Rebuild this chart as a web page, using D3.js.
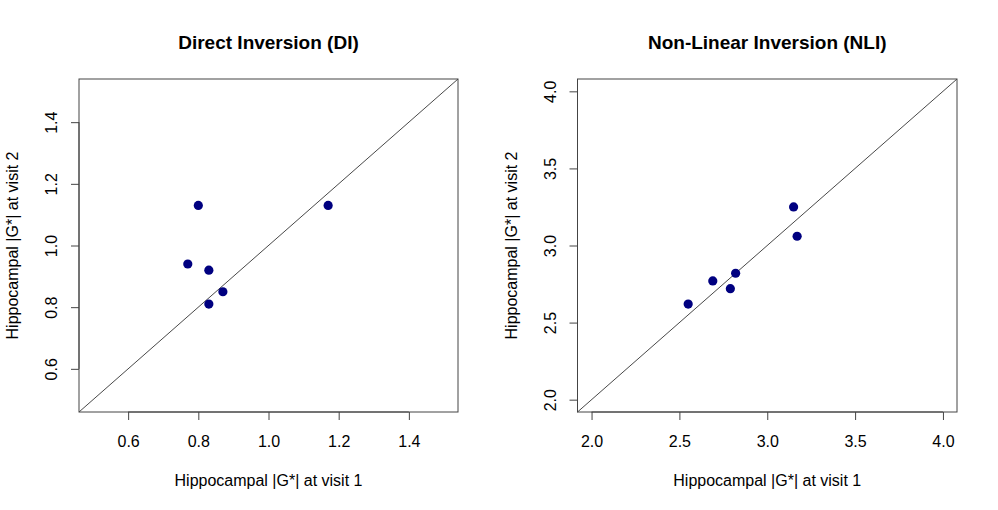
<!DOCTYPE html>
<html>
<head>
<meta charset="utf-8">
<title>Hippocampal |G*| visit 1 vs visit 2</title>
<script src="https://cdn.jsdelivr.net/npm/d3@7"></script>
<style>
  body { margin: 0; background: #fff; }
  text { font-family: "Liberation Sans", Arial, sans-serif; fill: #000; }
</style>
</head>
<body>
<script>
// data
var diVisit1 = [0.80, 1.17, 0.77, 0.83, 0.87, 0.83];
var diVisit2 = [1.13, 1.13, 0.94, 0.92, 0.85, 0.81];
var nliVisit1 = [2.55, 2.69, 2.79, 2.82, 3.15, 3.17];
var nliVisit2 = [2.62, 2.77, 2.72, 2.82, 3.25, 3.06];
var diTicks = [0.6, 0.8, 1.0, 1.2, 1.4];
var nliTicks = [2.0, 2.5, 3.0, 3.5, 4.0];

var svg = d3.select("body").append("svg").attr("width", 998).attr("height", 510);

var panels = [
    {title: "Direct Inversion (DI)", x: diVisit1, y: diVisit2, lim: [0.5, 1.5], ticks: diTicks, left: 79, right: 458},
    {title: "Non-Linear Inversion (NLI)", x: nliVisit1, y: nliVisit2, lim: [2, 4], ticks: nliTicks, left: 577.5, right: 957}
];

var plotTop = 79, plotBottom = 412;

panels.forEach(function(p) {
    // R style 4% padding of the axis range
    var pad = (p.lim[1] - p.lim[0]) * 0.04;
    var dom = [p.lim[0] - pad, p.lim[1] + pad];
    var x = d3.scaleLinear().domain(dom).range([p.left, p.right]);
    var y = d3.scaleLinear().domain(dom).range([plotBottom, plotTop]);
    var g = svg.append("g");

    // identity line
    g.append("line")
        .attr("x1", x(dom[0])).attr("y1", y(dom[0]))
        .attr("x2", x(dom[1])).attr("y2", y(dom[1]))
        .attr("stroke", "#333").attr("stroke-width", 0.9);

    g.selectAll("circle").data(p.x).enter().append("circle")
        .attr("cx", function(d) { return x(d); })
        .attr("cy", function(d, i) { return y(p.y[i]); })
        .attr("r", 4.6)
        .attr("fill", "#000080");

    g.append("rect")
        .attr("x", p.left).attr("y", plotTop)
        .attr("width", p.right - p.left).attr("height", plotBottom - plotTop)
        .attr("fill", "none").attr("stroke", "#444").attr("stroke-width", 1);

    var xAxis = g.append("g").attr("transform", "translate(0," + plotBottom + ")")
        .call(d3.axisBottom(x).tickValues(p.ticks).tickSize(8).tickPadding(16)
            .tickFormat(d3.format(".1f")));
    var yAxis = g.append("g").attr("transform", "translate(" + p.left + ",0)")
        .call(d3.axisLeft(y).tickValues(p.ticks).tickSize(8).tickPadding(13)
            .tickFormat(d3.format(".1f")));
    [xAxis, yAxis].forEach(function(a) {
        a.select(".domain").remove();
        a.selectAll("line").attr("stroke", "#444");
        a.selectAll("text").style("font-size", "16px")
            .style("font-family", "Liberation Sans, Arial, sans-serif");
    });
    // R draws the axis line between first and last tick
    xAxis.append("line")
        .attr("x1", x(p.ticks[0])).attr("x2", x(p.ticks[p.ticks.length - 1]))
        .attr("stroke", "#444");
    yAxis.append("line")
        .attr("y1", y(p.ticks[0])).attr("y2", y(p.ticks[p.ticks.length - 1]))
        .attr("stroke", "#444");
    yAxis.selectAll(".tick text")
        .attr("x", null).attr("dy", null).attr("y", null)
        .attr("text-anchor", "middle")
        .attr("transform", "translate(-22,0) rotate(-90)");

    var cx = (p.left + p.right) / 2;
    g.append("text").attr("x", cx).attr("y", 49)
        .attr("text-anchor", "middle")
        .style("font-size", "19px").style("font-weight", "bold")
        .text(p.title);
    g.append("text").attr("x", cx).attr("y", 486)
        .attr("text-anchor", "middle").style("font-size", "16px")
        .text("Hippocampal |G*| at visit 1");
    g.append("text")
        .attr("transform", "translate(" + (p.left - 61) + "," + ((plotTop + plotBottom) / 2) + ") rotate(-90)")
        .attr("text-anchor", "middle").style("font-size", "16px")
        .text("Hippocampal |G*| at visit 2");
});
</script>
</body>
</html>
